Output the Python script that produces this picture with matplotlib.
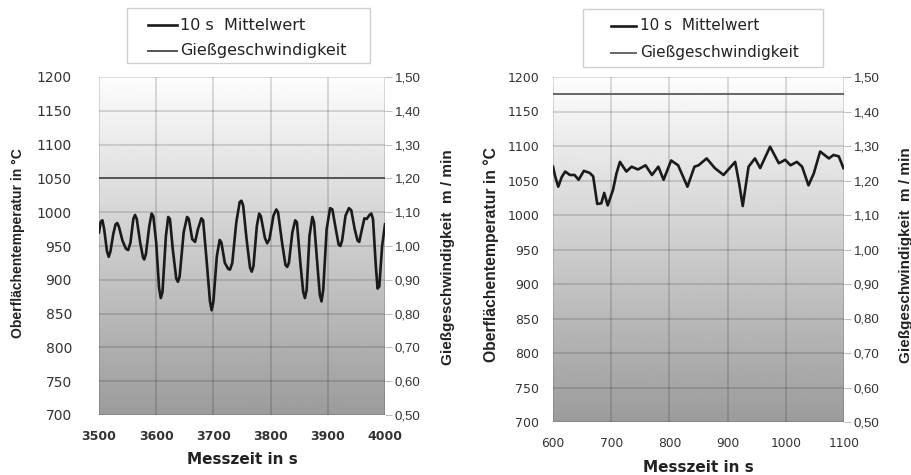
import numpy as np
import matplotlib
matplotlib.use("Agg")
import matplotlib.pyplot as plt
from matplotlib.patches import Rectangle
from matplotlib.lines import Line2D
from matplotlib.ticker import FuncFormatter

plt.rcParams['font.family'] = ['DejaVu Sans']

# left chart: 3500..4000 s, 10 s Mittelwert
left_t = [3500, 3503, 3506, 3509, 3514, 3517, 3520, 3525, 3529, 3532, 3535, 3541, 3547, 3551,
          3555, 3560, 3563, 3566, 3572, 3577, 3579, 3582, 3588, 3592, 3595, 3600, 3605, 3608,
          3611, 3617, 3621, 3624, 3629, 3635, 3638, 3641, 3648, 3654, 3657, 3663, 3668, 3673,
          3679, 3682, 3688, 3694, 3697, 3700, 3706, 3711, 3714, 3720, 3726, 3729, 3733, 3740,
          3746, 3749, 3752, 3758, 3764, 3767, 3770, 3776, 3780, 3783, 3790, 3794, 3798, 3805,
          3810, 3813, 3820, 3826, 3829, 3832, 3838, 3843, 3846, 3852, 3857, 3860, 3863, 3868,
          3873, 3876, 3882, 3886, 3889, 3892, 3898, 3904, 3908, 3914, 3919, 3922, 3925, 3931,
          3937, 3941, 3947, 3952, 3955, 3959, 3964, 3968, 3973, 3976, 3979, 3984, 3987, 3990,
          3995, 4000]
left_temp = [970, 986, 988, 975, 942, 934, 942, 968, 982, 984, 978, 958, 946, 944,
             955, 990, 996, 990, 955, 933, 930, 938, 980, 998, 994, 955, 888, 873,
             882, 965, 993, 990, 945, 902, 897, 905, 970, 993, 990, 960, 956, 975,
             991, 988, 930, 868, 855, 868, 935, 959, 955, 925, 916, 915, 925, 985,
             1015, 1017, 1010, 960, 918, 912, 920, 980, 998, 994, 962, 954, 960, 995,
             1004, 1000, 955, 922, 919, 925, 970, 988, 985, 925, 882, 873, 885, 965,
             993, 985, 920, 878, 868, 885, 975, 1006, 1004, 975, 952, 950, 958, 995,
             1006, 1003, 975, 958, 956, 972, 991, 990, 996, 998, 990, 920, 887, 890,
             950, 982]
left_speed_t = [3500, 4000]
left_speed = [1.20, 1.20]

# right chart: 600..1100 s
right_t = [600, 604, 609, 615, 621, 629, 637, 644, 653, 663, 669, 676, 683, 688, 694, 703,
           709, 715, 726, 735, 746, 759, 770, 781, 790, 803, 815, 831, 843, 850, 864,
           878, 893, 913, 920, 926, 936, 947, 956, 973, 988, 999, 1008, 1019, 1028,
           1039, 1048, 1059, 1074, 1082, 1091, 1099]
right_temp = [1070, 1055, 1041, 1055, 1063, 1058, 1058, 1051, 1064, 1061, 1056, 1016, 1017, 1032,
              1014, 1036, 1060, 1077, 1063, 1070, 1066, 1072, 1058, 1070, 1051, 1079, 1072,
              1041, 1070, 1072, 1082, 1068, 1058, 1077, 1045, 1013, 1070, 1082, 1068, 1099,
              1075, 1080, 1072, 1077, 1070, 1043, 1060, 1092, 1082, 1087, 1085, 1068]
right_speed_t = [600, 1100]
right_speed = [1.45, 1.45]

temp_ticks = np.arange(700, 1201, 50)
speed_ticks = np.arange(0.5, 1.501, 0.1)
legend_labels = ['10 s  Mittelwert', 'Gießgeschwindigkeit']

W, H = 912, 475
fig = plt.figure(figsize=(W / 100, H / 100), dpi=100)


def fx(px):
    return px / W


def fy(py):
    return 1 - py / H


def make_panel(box, t, temp, st, sp, xmin, xmax, ytick_size, ypad, xtick_font, xpad,
               speed_color, ylab, ylab2, xlab_y, leg_box, leg_rows, leg_x, leg_size):
    x0, y0, x1, y1 = box
    ax = fig.add_axes([fx(x0), fy(y1), fx(x1 - x0), (y1 - y0) / H])
    ax.set_xlim(xmin, xmax)
    ax.set_ylim(700, 1200)
    grad = np.linspace(0, 1, 256).reshape(-1, 1)
    ax.imshow(grad, cmap='gray', vmin=-1.6, vmax=1.02, aspect='auto',
              extent=[xmin, xmax, 700, 1200], origin='lower', zorder=0)
    ax.set_xticks(np.arange(xmin, xmax + 1, 100))
    ax.set_yticks(temp_ticks)
    ax.grid(True, color='black', alpha=0.15, lw=1.3)
    for s in ax.spines.values():
        s.set_visible(False)
    ax.tick_params(axis='y', length=0, pad=ypad)
    ax.tick_params(axis='x', length=0, pad=xpad)
    for lab in ax.get_yticklabels():
        lab.set(family='DejaVu Sans', fontsize=ytick_size, color='#333333')
    for lab in ax.get_xticklabels():
        lab.set(**xtick_font, color='#333333')
    ax.plot(t, temp, color='#1a1a1a', lw=1.9, zorder=3)

    ax2 = ax.twinx()
    ax2.set_ylim(0.5, 1.5)
    ax2.set_yticks(speed_ticks)
    ax2.yaxis.set_major_formatter(FuncFormatter(lambda v, p: ('%.2f' % v).replace('.', ',')))
    for s in ax2.spines.values():
        s.set_visible(False)
    ax2.tick_params(axis='y', length=5, color='#c0c0c0', pad=2)
    for lab in ax2.get_yticklabels():
        lab.set(family='Liberation Sans', fontsize=9.5, color='#333333')
    ax2.plot(st, sp, color=speed_color, lw=1.4, zorder=3)

    # axis titles (x, y centre in pixels, size)
    fig.text(fx(ylab[0]), fy(ylab[1]), 'Oberflächentemperatur in °C', rotation=90,
             ha='center', va='center', fontsize=ylab[2], fontweight='bold',
             family='Liberation Sans', color='#222222')
    fig.text(fx(ylab2[0]), fy(ylab2[1]), 'Gießgeschwindigkeit  m / min', rotation=90,
             ha='center', va='center', fontsize=ylab2[2], fontweight='bold',
             family='Liberation Sans', color='#222222')
    fig.text(fx((x0 + x1) / 2), fy(xlab_y), 'Messzeit in s', ha='center', va='center',
             fontsize=11, fontweight='bold', color='#222222')

    # legend box above the plot
    bx0, by0, bx1, by1 = leg_box
    fig.patches.append(Rectangle((fx(bx0), fy(by1)), fx(bx1 - bx0), (by1 - by0) / H,
                                 transform=fig.transFigure, facecolor='white',
                                 edgecolor='#cfcfcf', lw=1.0))
    hx0, hx1, tx = leg_x
    for row, label, col, lw in zip(leg_rows, legend_labels, ['#1a1a1a', speed_color], [1.9, 1.4]):
        fig.lines.append(Line2D([fx(hx0), fx(hx1)], [fy(row), fy(row)], color=col, lw=lw,
                                transform=fig.transFigure))
        fig.text(fx(tx), fy(row), label, ha='left', va='center', fontsize=leg_size,
                 color='#222222')


make_panel((99, 77, 385, 415), left_t, left_temp, left_speed_t, left_speed, 3500, 4000,
           10, 19.5, dict(family='DejaVu Sans', fontsize=9, fontweight='bold'), 11,
           '#555555', (18.5, 243, 10), (448.5, 257, 11), 459,
           (127, 8, 370, 63), (25, 51), (148, 177, 180), 11.5)
make_panel((553, 77, 844, 422), right_t, right_temp, right_speed_t, right_speed, 600, 1100,
           9, 10, dict(family='DejaVu Sans', fontsize=8.8), 11,
           '#666666', (491.5, 255, 11.3), (906, 255, 11), 468,
           (583, 9, 823, 67), (26, 53), (611, 636, 640), 11)

fig.savefig('out.png', dpi=100)
